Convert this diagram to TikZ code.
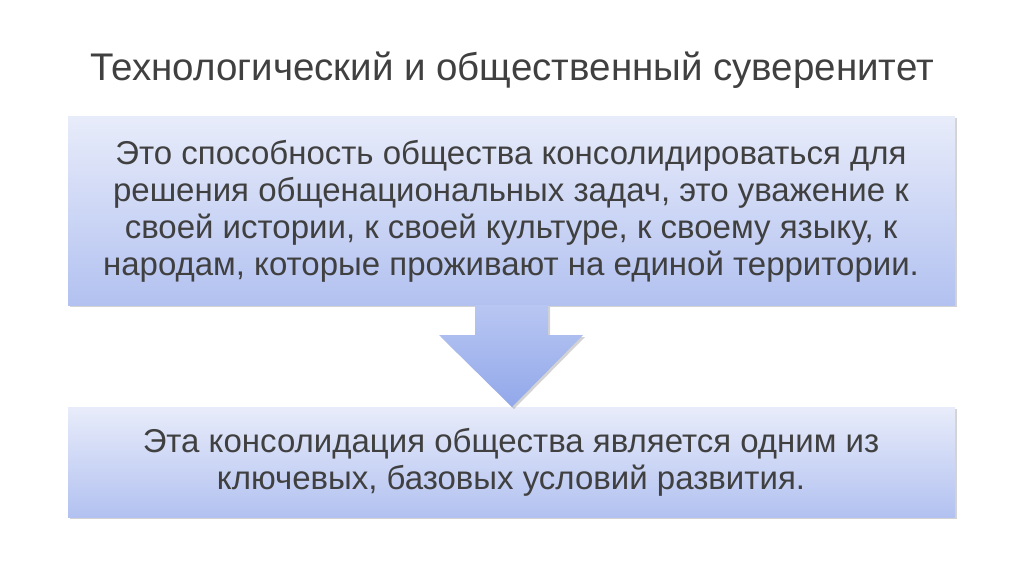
\documentclass[tikz,border=0pt]{standalone}
\usepackage{fontspec}
\setmainfont{Liberation Sans}
\usetikzlibrary{shadows}
\definecolor{ctop}{HTML}{E8ECFA}
\definecolor{cbot}{HTML}{B2C1F0}
\definecolor{atop}{HTML}{B8C6F2}
\definecolor{abot}{HTML}{92A8EA}
\definecolor{txt}{HTML}{404040}
\tikzset{panel/.style={top color=ctop,bottom color=cbot,draw=none,drop shadow={shadow xshift=2pt,shadow yshift=-2pt,opacity=0.35}},
 body/.style={font=\fontsize{33}{37}\selectfont,text=txt,align=center}}
\begin{document}
\begin{tikzpicture}[x=1pt,y=-1pt]
\useasboundingbox (0,0) rectangle (1024,574);
\node[font=\fontsize{38.5}{44}\selectfont,text=txt] (title) at (512,70) {Технологический и общественный суверенитет};
\path[panel] (68,116) rectangle (955,305);
\path[panel] (68,407) rectangle (955,517);
\path[top color=atop,bottom color=abot,drop shadow={shadow xshift=2pt,shadow yshift=-2pt,opacity=0.35}] (475,305) -- (548,305) -- (548,335) -- (583,335) -- (512,407) -- (439,335) -- (475,335) -- cycle;
\node[body] (t1) at (511,211) {Это способность общества консолидироваться для\\решения общенациональных задач, это уважение к\\своей истории, к своей культуре, к своему языку, к\\народам, которые проживают на единой территории.};
\node[body] (t2) at (511,462) {Эта консолидация общества является одним из\\ключевых, базовых условий развития.};
\end{tikzpicture}
\end{document}
